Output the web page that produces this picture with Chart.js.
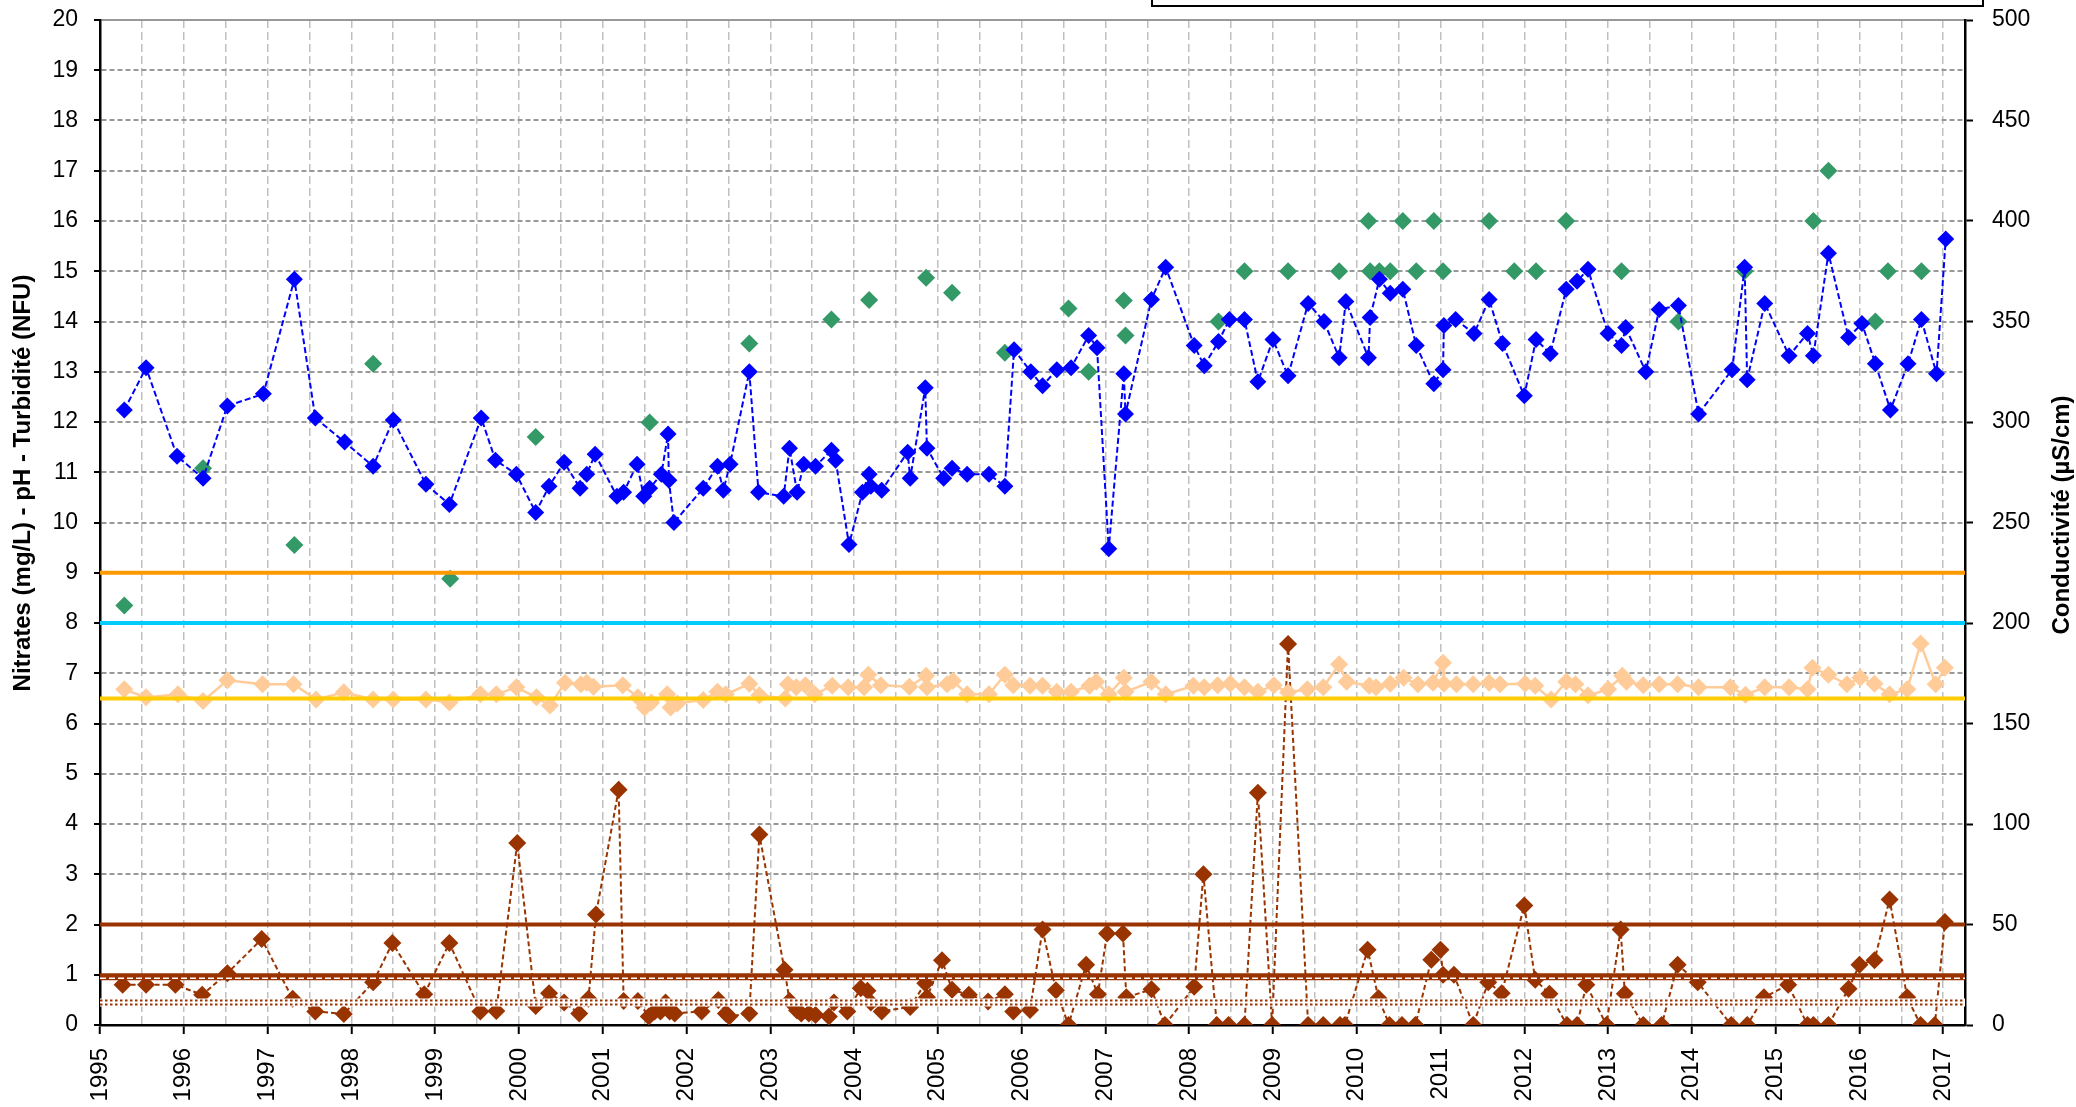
<!DOCTYPE html>
<html><head><meta charset="utf-8">
<script src="https://cdn.jsdelivr.net/npm/chart.js@4.4.1/dist/chart.umd.min.js"></script>
<style>html,body{margin:0;padding:0;background:#fff;}canvas{display:block;}</style>
</head><body>
<canvas id="c" width="2076" height="1107"></canvas>
<script>
// ---------- DATA ----------
const condDates = [1995.29,1995.55,1995.92,1996.23,1996.52,1996.95,1997.32,1997.57,1997.92,1998.26,
1998.50,1998.89,1999.17,1999.55,1999.72,1999.97,2000.20,2000.36,2000.54,2000.73,
2000.81,2000.91,2001.17,2001.25,2001.41,2001.49,2001.56,2001.70,2001.78,2001.79,
2001.85,2002.20,2002.37,2002.44,2002.52,2002.75,2002.86,2003.16,2003.23,2003.32,
2003.40,2003.54,2003.73,2003.78,2003.94,2004.10,2004.18,2004.20,2004.33,2004.64,
2004.67,2004.85,2004.87,2005.07,2005.17,2005.35,2005.61,2005.80,2005.91,2006.11,
2006.25,2006.42,2006.59,2006.80,2006.90,2007.04,2007.22,2007.24,2007.55,2007.72,
2008.06,2008.18,2008.35,2008.48,2008.66,2008.82,2009.00,2009.18,2009.42,2009.61,
2009.79,2009.87,2010.14,2010.16,2010.27,2010.40,2010.55,2010.71,2010.92,2011.03,
2011.04,2011.18,2011.40,2011.58,2011.74,2012.00,2012.14,2012.31,2012.50,2012.63,
2012.76,2013.00,2013.16,2013.21,2013.45,2013.61,2013.84,2014.08,2014.48,2014.63,
2014.66,2014.87,2015.16,2015.38,2015.45,2015.63,2015.87,2016.03,2016.19,2016.37,
2016.58,2016.74,2016.92,2017.03];
const condValues = [306,327,283,272,308,314,371,302,290,278,
301,269,259,302,281,274,255,268,280,267,
274,284,263,265,279,263,267,274,294,271,
250,267,278,266,279,325,265,263,287,265,
279,278,286,281,239,265,274,268,266,285,
272,317,287,272,277,274,274,268,336,325,
318,326,327,343,337,237,324,304,361,377,
338,328,340,351,351,320,341,323,359,350,
332,360,332,352,371,364,366,338,319,326,
348,351,344,361,339,313,341,334,366,370,
376,344,338,347,325,356,358,304,326,377,
321,359,333,344,333,384,342,349,329,306,
329,351,324,391];

const nitDates = [1995.29,1996.23,1997.32,1998.26,1999.18,2000.20,2001.56,2002.75,2003.73,2004.18,
2004.86,2005.17,2005.80,2006.56,2006.80,2007.22,2007.24,2008.35,2008.66,2009.18,
2009.79,2010.14,2010.16,2010.27,2010.40,2010.55,2010.71,2010.92,2011.03,2011.58,
2011.88,2012.14,2012.50,2013.16,2013.84,2014.63,2015.45,2015.63,2016.19,2016.34,
2016.74];
const nitValues = [8.35,11.08,9.55,13.16,8.88,11.70,11.99,13.56,14.04,14.43,
14.87,14.57,13.38,14.26,13.00,14.42,13.72,14.00,15.00,15.00,
15.00,16.00,15.00,15.00,15.00,16.00,15.00,16.00,15.00,16.00,
15.00,15.00,16.00,15.00,14.00,15.00,16.00,17.00,14.00,15.00,
15.00];

const phDates = [1995.29,1995.55,1995.93,1996.23,1996.52,1996.94,1997.31,1997.58,1997.91,1998.26,
1998.50,1998.89,1999.17,1999.54,1999.73,1999.97,2000.21,2000.37,2000.55,2000.74,
2000.81,2000.89,2001.24,2001.42,2001.50,2001.58,2001.77,2001.81,2001.89,2002.20,
2002.37,2002.47,2002.75,2002.87,2003.18,2003.21,2003.31,2003.42,2003.53,2003.74,
2003.93,2004.12,2004.17,2004.32,2004.66,2004.86,2004.87,2005.11,2005.18,2005.35,
2005.61,2005.80,2005.90,2006.10,2006.25,2006.42,2006.59,2006.81,2006.89,2007.04,
2007.22,2007.24,2007.55,2007.72,2008.05,2008.18,2008.34,2008.49,2008.66,2008.82,
2009.01,2009.18,2009.41,2009.60,2009.79,2009.88,2010.15,2010.23,2010.40,2010.56,
2010.73,2010.91,2011.03,2011.04,2011.19,2011.39,2011.58,2011.71,2012.01,2012.13,
2012.32,2012.50,2012.61,2012.76,2013.00,2013.17,2013.22,2013.42,2013.61,2013.83,
2014.08,2014.46,2014.64,2014.87,2015.16,2015.38,2015.44,2015.63,2015.85,2016.01,
2016.18,2016.36,2016.57,2016.73,2016.91,2017.02];
const phValues = [6.68,6.52,6.58,6.45,6.86,6.78,6.78,6.48,6.62,6.48,
6.48,6.48,6.42,6.58,6.58,6.72,6.52,6.36,6.81,6.78,
6.81,6.73,6.76,6.52,6.32,6.42,6.58,6.32,6.40,6.47,
6.63,6.58,6.79,6.56,6.50,6.78,6.72,6.76,6.58,6.75,
6.72,6.72,6.97,6.76,6.73,6.95,6.72,6.78,6.85,6.58,
6.58,6.97,6.76,6.75,6.75,6.63,6.63,6.75,6.83,6.58,
6.91,6.63,6.83,6.58,6.75,6.72,6.76,6.79,6.72,6.63,
6.76,6.62,6.68,6.72,7.18,6.83,6.75,6.72,6.79,6.91,
6.78,6.81,7.21,6.79,6.78,6.78,6.81,6.78,6.79,6.75,
6.48,6.83,6.78,6.56,6.68,6.95,6.83,6.76,6.78,6.78,
6.72,6.72,6.57,6.72,6.72,6.68,7.11,6.97,6.78,6.91,
6.79,6.58,6.68,7.59,6.78,7.11];

const turbDates = [1995.27,1995.55,1995.90,1996.22,1996.52,1996.93,1997.30,1997.57,1997.91,1998.26,
1998.49,1998.87,1999.17,1999.54,1999.73,1999.98,2000.20,2000.36,2000.54,2000.72,
2000.83,2000.92,2001.19,2001.25,2001.42,2001.55,2001.62,2001.69,2001.75,2001.80,
2001.86,2002.18,2002.38,2002.47,2002.51,2002.75,2002.87,2003.17,2003.23,2003.32,
2003.37,2003.46,2003.54,2003.70,2003.76,2003.92,2004.08,2004.16,2004.20,2004.33,
2004.67,2004.85,2004.87,2005.05,2005.17,2005.37,2005.60,2005.80,2005.90,2006.10,
2006.25,2006.41,2006.56,2006.77,2006.91,2007.02,2007.21,2007.25,2007.55,2007.71,
2008.06,2008.17,2008.33,2008.47,2008.66,2008.82,2008.99,2009.18,2009.42,2009.60,
2009.80,2009.86,2010.13,2010.26,2010.39,2010.54,2010.70,2010.89,2011.00,2011.03,
2011.16,2011.39,2011.57,2011.73,2012.00,2012.13,2012.30,2012.51,2012.63,2012.74,
2012.98,2013.15,2013.20,2013.42,2013.64,2013.83,2014.07,2014.47,2014.66,2014.86,
2015.15,2015.38,2015.45,2015.63,2015.87,2016.00,2016.18,2016.36,2016.57,2016.73,
2016.90,2017.02];
const turbValues = [0.80,0.80,0.80,0.60,1.03,1.71,0.52,0.27,0.22,0.85,
1.63,0.61,1.63,0.27,0.28,3.62,0.38,0.63,0.45,0.23,
0.52,2.20,4.68,0.48,0.48,0.17,0.27,0.27,0.45,0.27,
0.23,0.27,0.50,0.23,0.17,0.23,3.79,1.10,0.48,0.29,
0.23,0.23,0.20,0.17,0.45,0.27,0.73,0.68,0.45,0.27,
0.36,0.83,0.55,1.29,0.70,0.60,0.47,0.61,0.27,0.30,
1.90,0.69,0,1.20,0.61,1.82,1.82,0.55,0.71,0,
0.76,3.00,0,0,0,4.62,0,7.58,0,0,
0,0,1.50,0.53,0,0,0,1.30,1.50,1.00,
1.00,0,0.85,0.63,2.38,0.90,0.62,0,0,0.80,
0,1.90,0.62,0,0,1.20,0.85,0,0,0.55,
0.80,0,0,0,0.72,1.20,1.29,2.50,0.55,0,
0,2.05];

// reference (limit) lines on the left axis
const refValues = [9, 8, 6.5, 2, 1, 0.5];

// axis ranges / ticks
const xMin = 1995, xMax = 2017.26, xStep = 0.5;
const yMin = 0, yMax = 20, yStep = 1;
const y2Min = 0, y2Max = 500, y2Step = 50;

const leftTitle = 'Nitrates (mg/L) - pH - Turbidité (NFU)';
const rightTitle = 'Conductivité (µS/cm)';

// ---------- STYLES ----------
const FONT = "'Liberation Sans', Arial, sans-serif";
const refStyles = [
  {kind:'solid', color:'#FF9900', width:4},
  {kind:'solid', color:'#00CCFF', width:4},
  {kind:'solid', color:'#FFCC00', width:4},
  {kind:'solid', color:'#993300', width:4},
  {kind:'band', color:'#993300'},
  {kind:'dotted', color:'#993300'}
];

const pts = (xs, ys) => xs.map((d, i) => ({x: d, y: ys[i]}));

const refPlugin = {
  id: 'refLines',
  afterDatasetsDraw(chart) {
    const {ctx, chartArea: {left, right}, scales: {y}} = chart;
    ctx.save();
    refValues.forEach((v, i) => {
      const s = refStyles[i];
      const p = y.getPixelForValue(v);
      const line = (yy, w, c, dash) => {
        ctx.beginPath();
        ctx.lineWidth = w; ctx.strokeStyle = c; ctx.setLineDash(dash || []);
        ctx.moveTo(left, yy); ctx.lineTo(right, yy); ctx.stroke();
      };
      if (s.kind === 'solid') line(p, s.width, s.color);
      else if (s.kind === 'band') {
        line(p + 2, 7, s.color);
        line(p + 3.5, 1.5, '#ffffff', [6, 3]);
      } else {
        line(p + 2.5, 8, '#ffffff');
        line(p + 0.5, 2, s.color, [2.5, 2.5]);
        line(p + 4.5, 2, s.color, [2.5, 2.5]);
      }
    });
    ctx.restore();
  },
  afterDraw(chart) {
    const {ctx} = chart;
    ctx.save();
    ctx.fillStyle = '#000';
    ctx.font = 'bold 24px ' + FONT;
    ctx.textAlign = 'center'; ctx.textBaseline = 'middle';
    ctx.translate(23, 483); ctx.rotate(-Math.PI / 2);
    ctx.fillText(leftTitle, 0, 0);
    ctx.restore();
    ctx.save();
    ctx.fillStyle = '#000';
    ctx.font = 'bold 24px ' + FONT;
    ctx.textAlign = 'center'; ctx.textBaseline = 'middle';
    ctx.translate(2062, 515); ctx.rotate(-Math.PI / 2);
    ctx.fillText(rightTitle, 0, 0);
    ctx.restore();
    // legend frame (cut off at the top edge)
    ctx.save();
    ctx.fillStyle = '#fff';
    ctx.fillRect(1152, -10, 831, 16);
    ctx.lineWidth = 2; ctx.strokeStyle = '#000';
    ctx.strokeRect(1152, -10, 831, 16);
    ctx.restore();
  }
};

const isYear = v => Math.abs(v - Math.round(v)) < 1e-6;
const noPad = s => { s.paddingTop = 0; s.paddingBottom = 0; s.paddingLeft = 0; s.paddingRight = 0; };

new Chart(document.getElementById('c'), {
  type: 'line',
  data: {
    datasets: [
      {
        label: 'Conductivité', data: pts(condDates, condValues), yAxisID: 'y2',
        borderColor: '#0000FF', borderWidth: 2, borderDash: [6, 3],
        pointStyle: 'rectRot', pointRadius: 8.5, pointBorderWidth: 0,
        pointBackgroundColor: '#0000FF', pointBorderColor: '#0000FF', tension: 0
      },
      {
        label: 'Nitrates', data: pts(nitDates, nitValues), yAxisID: 'y', showLine: false,
        pointStyle: 'rectRot', pointRadius: 9, pointBorderWidth: 0,
        pointBackgroundColor: '#339966', pointBorderColor: '#339966', borderColor: '#339966'
      },
      {
        label: 'pH', data: pts(phDates, phValues), yAxisID: 'y',
        borderColor: '#FFCC99', borderWidth: 2.5,
        pointStyle: 'rectRot', pointRadius: 9, pointBorderWidth: 0,
        pointBackgroundColor: '#FFCC99', pointBorderColor: '#FFCC99', tension: 0
      },
      {
        label: 'Turbidité', data: pts(turbDates, turbValues), yAxisID: 'y',
        borderColor: '#993300', borderWidth: 2, borderDash: [5, 3],
        pointStyle: 'rectRot', pointRadius: 9, pointBorderWidth: 0,
        pointBackgroundColor: '#993300', pointBorderColor: '#993300', tension: 0
      }
    ]
  },
  options: {
    responsive: false, animation: false, devicePixelRatio: 1, events: [],
    layout: {autoPadding: false, padding: {top: 20, left: 0, right: 0, bottom: 0}},
    plugins: {legend: {display: false}, tooltip: {enabled: false}},
    scales: {
      x: {
        type: 'linear', position: 'bottom', min: xMin, max: xMax,
        afterFit: s => { s.height = 82; noPad(s); },
        ticks: {
          stepSize: xStep, autoSkip: false, maxRotation: 90, minRotation: 90, maxTicksLimit: 200,
          includeBounds: false,
          color: '#000', font: {family: FONT, size: 24}, padding: 14,
          callback: v => isYear(v) ? String(Math.round(v)) : ''
        },
        grid: {
          color: '#c0c0c0', lineWidth: 1.5, tickLength: 9, tickWidth: 2,
          tickColor: c => (c.tick && isYear(c.tick.value)) ? '#000' : 'rgba(0,0,0,0)'
        },
        border: {color: '#000', width: 2.5, dash: [8, 4]}
      },
      y: {
        position: 'left', min: yMin, max: yMax,
        afterFit: s => { s.width = 100; noPad(s); },
        ticks: {stepSize: yStep, color: '#000', font: {family: FONT, size: 23}, padding: 16},
        grid: {color: '#999', lineWidth: 2, tickLength: 6, tickWidth: 2, tickColor: '#000'},
        border: {color: '#000', width: 2.5, dash: c => (c.tick && c.tick.value === yMax) ? [] : [5, 3]}
      },
      y2: {
        position: 'right', min: y2Min, max: y2Max,
        afterFit: s => { s.width = 111; noPad(s); },
        ticks: {stepSize: y2Step, color: '#000', font: {family: FONT, size: 23}, padding: 19},
        grid: {drawOnChartArea: false, tickLength: 8, tickWidth: 2, tickColor: '#000'},
        border: {color: '#000', width: 2.5}
      }
    }
  },
  plugins: [refPlugin]
});
</script>
</body></html>
